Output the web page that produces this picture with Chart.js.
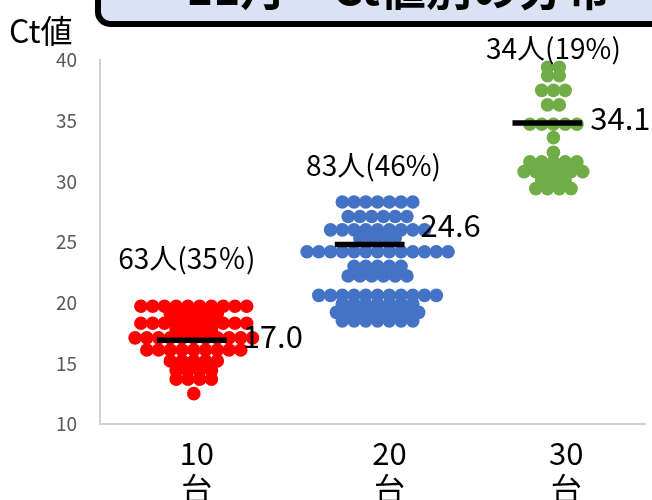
<!DOCTYPE html>
<html><head><meta charset="utf-8">
<script src="https://cdn.jsdelivr.net/npm/chart.js@4/dist/chart.umd.min.js"></script>
<style>html,body{margin:0;padding:0;background:#fff;overflow:hidden}#wrap{width:652px;height:500px;position:relative}</style>
</head><body><div id="wrap"><canvas id="c" width="652" height="500"></canvas></div>
<script>
// ---------- data ----------
const categories = ["10台", "20台", "30台"];
const tickLabels = [["10", "台"], ["20", "台"], ["30", "台"]];
const yTicks = [10, 15, 20, 25, 30, 35, 40];
const teensCt = [
  19.7,19.7,19.7,19.7,19.7,19.7,19.7,19.7,19.7,19.7,
  19.1,19.1,19.1,19.1,19.1,
  18.3,18.3,18.3,18.3,18.3,18.3,18.3,18.3,18.3,18.3,
  17.8,17.8,17.8,17.8,
  17.1,17.1,17.1,17.1,17.1,17.1,17.1,17.1,17.1,17.1,17.1,
  16.1,16.1,16.1,16.1,16.1,16.1,16.1,16.1,16.1,
  15.2,15.2,15.2,15.2,15.2,
  14.4,14.4,14.4,14.4,
  13.7,13.7,13.7,13.7,
  12.5
];
const twentiesCt = [
  28.3,28.3,28.3,28.3,28.3,28.3,28.3,
  27.1,27.1,27.1,27.1,27.1,27.1,
  26.0,26.0,26.0,26.0,26.0,26.0,26.0,26.0,26.0,
  25.3,25.3,25.3,25.3,
  24.2,24.2,24.2,24.2,24.2,24.2,24.2,24.2,24.2,24.2,24.2,24.2,24.2,
  23.0,23.0,23.0,23.0,23.0,
  22.2,22.2,22.2,22.2,22.2,22.2,
  20.6,20.6,20.6,20.6,20.6,20.6,20.6,20.6,20.6,20.6,20.6,
  19.9,19.9,19.9,19.9,19.9,19.9,19.9,
  19.2,19.2,19.2,19.2,19.2,19.2,19.2,19.2,
  18.5,18.5,18.5,18.5,18.5,18.5,18.5
];
const thirtiesCt = [
  39.4,39.4,
  38.7,38.7,
  37.5,37.5,37.5,
  36.3,36.3,
  34.7,34.7,34.7,34.7,34.7,
  33.6,
  32.4,
  31.6,31.6,31.6,31.6,31.6,
  30.8,30.8,30.8,30.8,30.8,30.8,
  30.1,30.1,30.1,
  29.4,29.4,29.4,29.4
];
const medianLine = [16.9, 24.8, 34.8];
const medianText = ["17.0", "24.6", "34.1"];
const countText = ["63人(35％)", "83人(46%)", "34人(19%)"];
const titleText = "11月　Ct値別の分布";
const yAxisLabel = "Ct値";
const colors = ["#ff0000", "#4472c4", "#70ad47"];

// ---------- layout (not data) ----------
const FONT = '"Noto Sans CJK JP", "Noto Sans", sans-serif';
const X_MIN = 0.48, X_MAX = 3.45;
const clusterCenter = [0.991, 1.992, 2.95];
const tickPos = [1.007, 2.057, 3.02];
const lineCenter = [0.98, 1.949, 2.917];
const lineHalf = 0.19;
const dotStep = 0.064;
const countLabelPx = [[-7, 258], [-4, 165], [0, 48]];   // dx from cluster centre, y px
const medLabelPx = [[16, -4], [16, -19], [8, -5]];      // from line right end

function swarm(values, center) {
  const rows = new Map();
  values.forEach(v => { if (!rows.has(v)) rows.set(v, 0); rows.set(v, rows.get(v) + 1); });
  const pts = [];
  rows.forEach((n, v) => {
    for (let i = 0; i < n; i++) pts.push({ x: center + (i - (n - 1) / 2) * dotStep, y: v });
  });
  return pts;
}
const groups = [teensCt, twentiesCt, thirtiesCt];

const datasets = [];
groups.forEach((vals, g) => {
  datasets.push({
    type: 'scatter', label: categories[g], data: swarm(vals, clusterCenter[g]),
    backgroundColor: colors[g], borderColor: colors[g], borderWidth: 0,
    pointRadius: 6.8, pointHoverRadius: 6.8, order: 2
  });
});
medianLine.forEach((m, g) => {
  datasets.push({
    type: 'line', label: 'median ' + categories[g],
    data: [{ x: lineCenter[g] - lineHalf, y: m }, { x: lineCenter[g] + lineHalf, y: m }],
    borderColor: '#000', borderWidth: 5.5, pointRadius: 0, showLine: true, order: 0,
    borderCapStyle: 'butt'
  });
});

const decor = {
  id: 'decor',
  afterDraw(chart) {
    const ctx = chart.ctx, xs = chart.scales.x, ys = chart.scales.y;
    ctx.save();
    // title box (cut at top)
    ctx.beginPath();
    ctx.roundRect(98, -50, 640, 74, 12);
    ctx.fillStyle = '#dae3f3';
    ctx.fill();
    ctx.lineWidth = 6;
    ctx.strokeStyle = '#000';
    ctx.stroke();
    ctx.fillStyle = '#000';
    ctx.font = 'bold 46px ' + FONT;
    ctx.textBaseline = 'alphabetic';
    ctx.textAlign = 'left';
    ctx.fillText(titleText, 186, 5);
    // y axis label
    ctx.font = '32px ' + FONT;
    ctx.textBaseline = 'middle';
    ctx.fillText(yAxisLabel, 9, 31);
    // count labels
    ctx.font = '28px ' + FONT;
    ctx.textAlign = 'center';
    countText.forEach((t, g) => {
      ctx.fillText(t, xs.getPixelForValue(clusterCenter[g]) + countLabelPx[g][0], countLabelPx[g][1]);
    });
    // median labels
    ctx.font = '31px ' + FONT;
    ctx.textAlign = 'left';
    medianText.forEach((t, g) => {
      const x = xs.getPixelForValue(lineCenter[g] + lineHalf) + medLabelPx[g][0];
      const y = ys.getPixelForValue(medianLine[g]) + medLabelPx[g][1];
      ctx.fillText(t, x, y);
    });
    ctx.restore();
  }
};

new Chart(document.getElementById('c'), {
  type: 'scatter',
  data: { datasets },
  options: {
    responsive: false, animation: false, devicePixelRatio: 1,
    layout: { padding: { top: 60, right: 0, left: 0, bottom: 0 } },
    plugins: { legend: { display: false }, tooltip: { enabled: false }, title: { display: false } },
    scales: {
      x: {
        type: 'linear', min: X_MIN, max: X_MAX,
        afterBuildTicks: s => { s.ticks = tickPos.map(v => ({ value: v })); },
        afterFit: s => { s.height = 76; },
        grid: { display: false, drawTicks: false },
        border: { display: true, color: '#d0d0d0', width: 2 },
        ticks: {
          autoSkip: false, maxRotation: 0, padding: 11, color: '#000',
          font: { family: FONT, size: 31, lineHeight: 1.15 },
          callback: (v, i) => tickLabels[i]
        }
      },
      y: {
        min: 10, max: 40,
        afterBuildTicks: s => { s.ticks = yTicks.map(v => ({ value: v })); },
        afterFit: s => { s.width = 100; },
        grid: { display: false, drawTicks: false },
        border: { display: true, color: '#d0d0d0', width: 2 },
        ticks: { padding: 23, color: '#595959', font: { family: FONT, size: 19 } }
      }
    }
  },
  plugins: [decor]
});
</script></body></html>
